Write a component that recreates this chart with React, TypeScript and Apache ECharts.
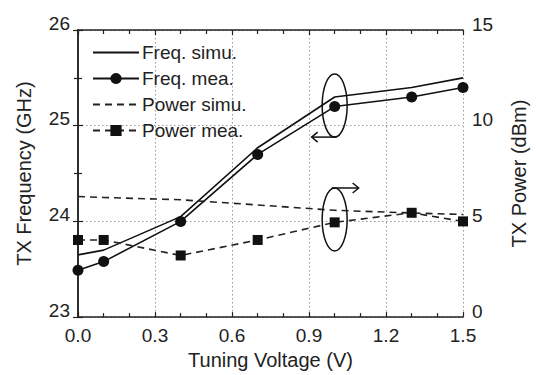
import React, { useEffect, useRef } from "react";
import * as echarts from "echarts";

const voltage = [0.0, 0.1, 0.4, 0.7, 1.0, 1.3, 1.5];
const freqSimu = [23.65, 23.7, 24.05, 24.77, 25.3, 25.4, 25.5];
const freqMea = [23.49, 23.58, 24.0, 24.7, 25.2, 25.3, 25.4];
const powerSimu = [6.3, 6.25, 6.13, 5.86, 5.58, 5.44, 5.36];
const powerMea = [4.03, 4.03, 3.22, 4.03, 4.95, 5.45, 5.0];

const xTicks = { min: 0, max: 1.5, interval: 0.3 };
const freqAxis = { min: 23, max: 26, interval: 1 };
const powerAxis = { min: 0, max: 15, interval: 5 };

const FONT = "'Liberation Sans', Arial, sans-serif";

const pairs = (ys: number[]) => voltage.map((v, i) => [v, ys[i]]);

export default function App() {
  const ref = useRef<HTMLDivElement>(null);
  useEffect(() => {
    if (!ref.current) return;
    const chart = echarts.init(ref.current, undefined, { renderer: "svg" });
    const axisLine = { show: true, lineStyle: { color: "#222", width: 1.5 } };
    const tick = { show: true, inside: true, length: 5, lineStyle: { color: "#222", width: 1.2 } };
    const minor = (n: number) => ({ show: true, splitNumber: n, length: 4, lineStyle: { color: "#222", width: 1.2 } });
    const label = { color: "#222", fontSize: 19, fontFamily: FONT };
    const grid = { show: true, lineStyle: { color: "#999", type: [1.5, 2.5], width: 1 } };
    const hidden = { opacity: 0, borderWidth: 0 };
    chart.setOption({
      animation: false,
      backgroundColor: "#fff",
      textStyle: { fontFamily: FONT },
      grid: { left: 78, right: 63, top: 30, bottom: 52 },
      legend: {
        orient: "vertical",
        left: 92,
        top: 43,
        padding: 0,
        itemWidth: 46,
        itemHeight: 14,
        itemGap: 7,
        textStyle: { color: "#222", fontSize: 19, fontFamily: FONT, padding: [0, 0, 0, -2] },
        data: [
          { name: "Freq. simu.", itemStyle: hidden },
          { name: "Freq. mea." },
          { name: "Power simu.", itemStyle: hidden },
          { name: "Power mea." },
        ],
      },
      xAxis: [
        {
          type: "value",
          ...xTicks,
          position: "bottom",
          axisLine,
          axisTick: tick,
          minorTick: minor(3),
          splitLine: grid,
          axisLabel: { ...label, margin: 9, formatter: (v: number) => v.toFixed(1) },
          name: "Tuning Voltage (V)",
          nameLocation: "middle",
          nameGap: 28,
          nameTextStyle: { ...label, fontSize: 20 },
        },
        {
          type: "value",
          ...xTicks,
          position: "top",
          axisLine,
          axisTick: tick,
          minorTick: minor(3),
          splitLine: { show: false },
          axisLabel: { show: false },
        },
      ],
      yAxis: [
        {
          type: "value",
          ...freqAxis,
          position: "left",
          axisLine,
          axisTick: tick,
          minorTick: minor(2),
          splitLine: grid,
          axisLabel: { ...label, margin: 8, verticalAlign: "bottom", lineHeight: 14 },
          name: "TX Frequency (GHz)",
          nameLocation: "middle",
          nameRotate: 90,
          nameGap: 44,
          nameTextStyle: { ...label, fontSize: 20 },
        },
        {
          type: "value",
          ...powerAxis,
          position: "right",
          axisLine,
          axisTick: tick,
          minorTick: minor(2),
          splitLine: { show: false },
          axisLabel: { ...label, margin: 9, verticalAlign: "bottom", lineHeight: 12 },
          name: "TX Power (dBm)",
          nameLocation: "middle",
          nameRotate: 90,
          nameGap: 46,
          nameTextStyle: { ...label, fontSize: 20 },
        },
      ],
      series: [
        {
          name: "Freq. simu.",
          type: "line",
          yAxisIndex: 0,
          data: pairs(freqSimu),
          symbol: "none",
          lineStyle: { color: "#111", width: 1.6 },
          itemStyle: { color: "#111" },
        },
        {
          name: "Freq. mea.",
          type: "line",
          yAxisIndex: 0,
          data: pairs(freqMea),
          symbol: "circle",
          symbolSize: 11,
          lineStyle: { color: "#111", width: 1.6 },
          itemStyle: { color: "#111" },
        },
        {
          name: "Power simu.",
          type: "line",
          yAxisIndex: 1,
          data: pairs(powerSimu),
          symbol: "none",
          lineStyle: { color: "#222", width: 1.6, type: [7, 5] },
          itemStyle: { color: "#222" },
        },
        {
          name: "Power mea.",
          type: "line",
          yAxisIndex: 1,
          data: pairs(powerMea),
          symbol: "rect",
          symbolSize: 10,
          lineStyle: { color: "#222", width: 1.6, type: [7, 5] },
          itemStyle: { color: "#111" },
        },
      ],
    });

    const toPx = (x: number, y: number, yi: number) =>
      chart.convertToPixel({ xAxisIndex: 0, yAxisIndex: yi }, [x, y]) as number[];
    const e1 = toPx(1.0, 25.21, 0);
    const e2 = toPx(1.0, 5.1, 1);
    const stroke = { stroke: "#111", lineWidth: 1.5, fill: "none" };
    const rx = 12.5;
    const ry = 31.5;
    const y1 = e1[1] + ry;
    const y2 = e2[1] - ry;
    chart.setOption({
      graphic: [
        { type: "ellipse", shape: { cx: e1[0], cy: e1[1], rx, ry }, style: stroke, z: 100 },
        { type: "line", shape: { x1: e1[0] + 2, y1, x2: e1[0] - 23, y2: y1 }, style: stroke, z: 100 },
        {
          type: "polyline",
          shape: { points: [[e1[0] - 17, y1 - 5], [e1[0] - 23, y1], [e1[0] - 17, y1 + 5]] },
          style: stroke,
          z: 100,
        },
        { type: "ellipse", shape: { cx: e2[0], cy: e2[1], rx, ry }, style: stroke, z: 100 },
        { type: "line", shape: { x1: e2[0] - 3, y1: y2, x2: e2[0] + 24, y2: y2 }, style: stroke, z: 100 },
        {
          type: "polyline",
          shape: { points: [[e2[0] + 18, y2 - 5], [e2[0] + 24, y2], [e2[0] + 18, y2 + 5]] },
          style: stroke,
          z: 100,
        },
      ],
    });
    return () => chart.dispose();
  }, []);
  return <div ref={ref} style={{ width: 537, height: 375, position: "fixed", left: 0, top: 0 }} />;
}
